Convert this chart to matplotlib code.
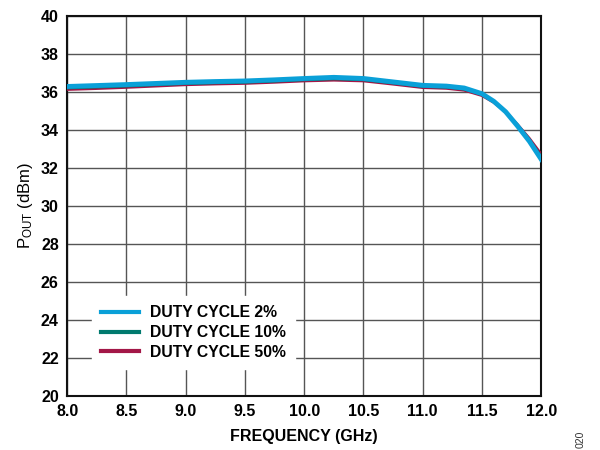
import numpy as np, matplotlib
matplotlib.use("Agg"); import matplotlib.pyplot as plt

freq = [8.0, 8.25, 8.5, 8.75, 9.0, 9.25, 9.5, 9.75, 10.0, 10.25, 10.5, 10.75, 11.0,
        11.2, 11.35, 11.5, 11.6, 11.7, 11.8, 11.9, 12.0]
dc2 = [36.28, 36.33, 36.38, 36.44, 36.50, 36.54, 36.57, 36.63, 36.70, 36.76, 36.70, 36.52, 36.34,
       36.30, 36.20, 35.90, 35.50, 34.95, 34.20, 33.40, 32.45]
dc10 = [36.20, 36.25, 36.30, 36.37, 36.43, 36.47, 36.50, 36.56, 36.63, 36.68, 36.63, 36.46, 36.28,
        36.24, 36.14, 35.86, 35.48, 34.95, 34.25, 33.48, 32.58]
dc50 = [36.12, 36.17, 36.23, 36.30, 36.37, 36.41, 36.44, 36.50, 36.57, 36.61, 36.57, 36.40, 36.22,
        36.18, 36.08, 35.80, 35.44, 34.95, 34.28, 33.55, 32.72]
labels = ["DUTY CYCLE 2%", "DUTY CYCLE 10%", "DUTY CYCLE 50%"]
colors = ["#0aa0d8", "#007a6e", "#a31747"]

plt.rcParams.update({"font.family": "Liberation Sans", "mathtext.default": "regular"})
fig = plt.figure(figsize=(6, 4.5), dpi=100)
ax = fig.add_axes([0.112, 0.12, 0.79, 0.845])

ax.plot(freq, dc50, color=colors[2], lw=2.0, zorder=3)
ax.plot(freq, dc10, color=colors[1], lw=2.0, zorder=4)
ax.plot(freq, dc2, color=colors[0], lw=3.5, zorder=5)
h = [plt.Line2D([], [], color=c, lw=3) for c in colors]

ax.set_xlim(8, 12); ax.set_ylim(20, 40)
ax.set_xticks(np.arange(8, 12.01, 0.5))
ax.set_yticks(np.arange(20, 40.1, 2))
ax.set_xticklabels([f"{v:.1f}" for v in np.arange(8, 12.01, 0.5)])
ax.tick_params(length=0, labelsize=11.5, pad=6)
for t in ax.get_xticklabels() + ax.get_yticklabels():
    t.set_fontweight("bold")
ax.grid(True, color="#555555", lw=1.0)
ax.set_axisbelow(True)
for s in ax.spines.values():
    s.set_color("#111111"); s.set_linewidth(1.5)

ax.set_xlabel("FREQUENCY (GHz)", fontsize=11.5, fontweight="bold", labelpad=7)
ax.set_ylabel("P$_{OUT}$ (dBm)", fontsize=12, labelpad=4)

leg = ax.legend(h, labels, loc="lower left", bbox_to_anchor=(0.035, 0.05),
                frameon=True, prop={"size": 11.3, "weight": "bold"}, handlelength=2.4,
                handletextpad=0.7, labelspacing=0.3, borderpad=0.6)
leg.get_frame().set_facecolor("white"); leg.get_frame().set_edgecolor("white")
leg.get_frame().set_alpha(1); leg.get_frame().set_boxstyle("square", pad=0)

fig.text(0.96, 0.008, "020", rotation=90, fontsize=7.5, color="#333333")
plt.savefig("out.png", dpi=100)
